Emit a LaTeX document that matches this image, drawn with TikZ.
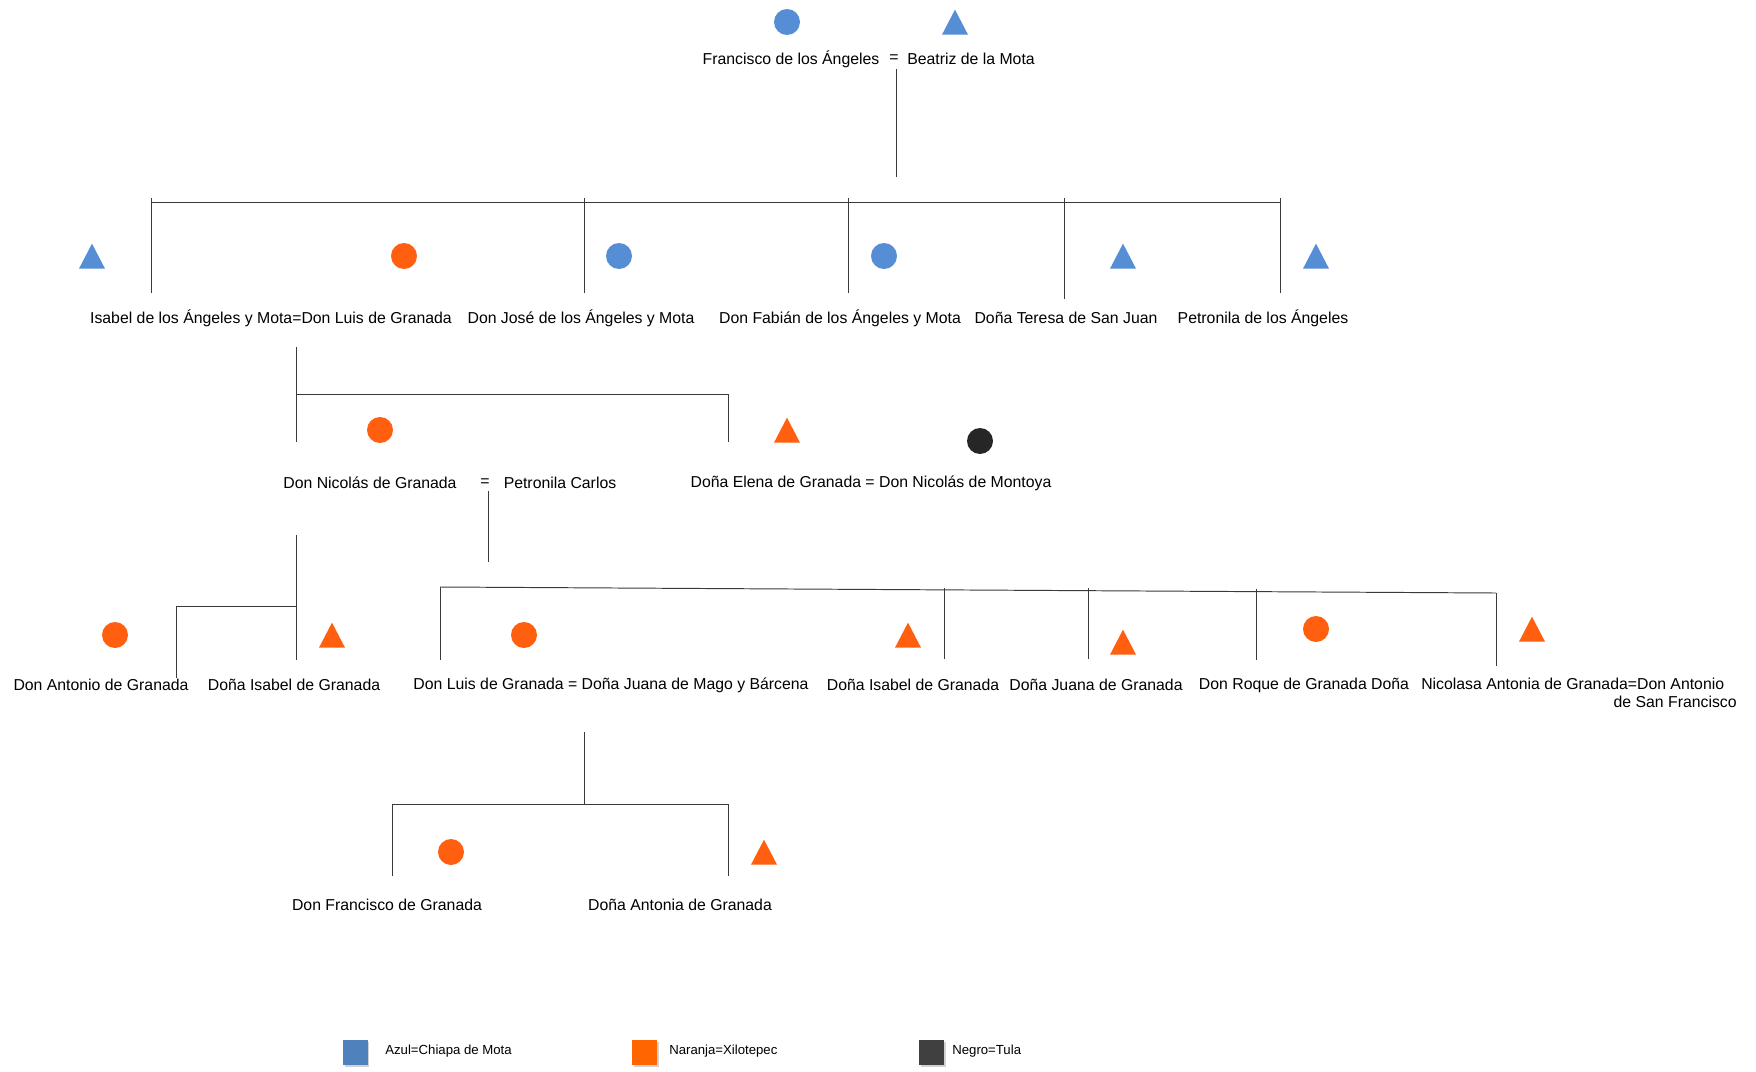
\documentclass[tikz,border=0pt]{standalone}
\usepackage{fontspec}
\setmainfont{Liberation Sans}
\usetikzlibrary{shapes.geometric,shadows}
\definecolor{azul}{HTML}{558ED5}
\definecolor{naranja}{HTML}{FF5F0F}
\definecolor{negro}{HTML}{262626}
\definecolor{azulL}{HTML}{4F81BD}
\definecolor{naranjaL}{HTML}{FF6600}
\definecolor{negroL}{HTML}{404040}
\definecolor{linea}{HTML}{3A3A3A}
\tikzset{
  circ/.style={circle,fill=#1,minimum size=0.52cm,inner sep=0pt},
  tri/.style={isosceles triangle,isosceles triangle stretches,shape border rotate=90,
    fill=#1,minimum width=0.52cm,minimum height=0.5cm,inner sep=0pt,
    anchor=south,yshift=-0.26cm},
  nombre/.style={font=\fontsize{9}{10.2}\selectfont,inner sep=0pt},
  rama/.style={draw=linea,line width=0.55pt},
  clave/.style={fill=#1,minimum size=0.5cm,inner sep=0pt,
    drop shadow={opacity=0.35,shadow xshift=0.04cm,shadow yshift=-0.05cm}},
  leyenda/.style={font=\fontsize{7.5}{9}\selectfont,inner sep=0pt,anchor=west}
}
\begin{document}
\begin{tikzpicture}[x=0.02cm,y=-0.02cm]
\useasboundingbox[fill=white] (0,0) rectangle (1756,1072);

% simbolos
\foreach \n/\x/\y/\c in {C1/787/22/azul, C2/404/256/naranja, C3/619/256/azul,
    C4/884/256/azul, C5/380/430/naranja, C6/980/441/negro, C7/115/635/naranja,
    C8/524/635/naranja, C9/1316/629/naranja, C10/451/852/naranja}{
  \node[circ=\c] (\n) at (\x,\y) {};
}
\foreach \n/\x/\y/\c in {T1/955/22/azul, T2/92/256/azul, T3/1123/256/azul,
    T4/1316/256/azul, T5/787/430/naranja, T6/332/635/naranja, T7/908/635/naranja,
    T8/1123/642/naranja, T9/1532/629/naranja, T10/764/852/naranja}{
  \node[tri=\c] (\n) at (\x,\y) {};
}

% nombres
\node[nombre] (francisco) at (791,59) {Francisco de los Ángeles};
\node[nombre] (eq0) at (894,59) {=};
\node[nombre] (beatriz) at (971,59) {Beatriz de la Mota};

\foreach \n/\x/\t in {isabel/271/Isabel de los Ángeles y Mota=Don Luis de Granada,
    jose/581/Don José de los Ángeles y Mota, fabian/840/Don Fabián de los Ángeles y Mota,
    teresa/1066/Doña Teresa de San Juan, petronila/1263/Petronila de los Ángeles}{
  \node[nombre] (\n) at (\x,318) {\t};
}

\node[nombre] (nicolas) at (370,483) {Don Nicolás de Granada};
\node[nombre] (eq2) at (485,483) {=};
\node[nombre] (carlos) at (560,483) {Petronila Carlos};
\node[nombre] (elena) at (871,483) {Doña Elena de Granada = Don Nicolás de Montoya};

\foreach \n/\x/\t in {antonio/101/Don Antonio de Granada, isabelg/294/Doña Isabel de Granada,
    luis/611/Don Luis de Granada = Doña Juana de Mago y Bárcena,
    isabelh/913/Doña Isabel de Granada, juana/1096/Doña Juana de Granada,
    roque/1304/Don Roque de Granada Doña}{
  \node[nombre] (\n) at (\x,685) {\t};
}
\node[nombre,align=right,anchor=north east] (nicolasa) at (1737,678)
  {Nicolasa Antonia de Granada=Don Antonio\hspace*{0.25cm}\\de San Francisco};

\node[nombre] (franciscog) at (387,905) {Don Francisco de Granada};
\node[nombre] (antonia) at (680,905) {Doña Antonia de Granada};

% lineas
\coordinate (a0) at (896,69);
\coordinate (a1) at (896,177);
\draw[rama] (a0) -- (a1);
\coordinate (h1l) at (151,202);
\coordinate (h1r) at (1280,202);
\draw[rama] (h1l) -- (h1r);
\foreach \i/\x/\y in {1/151/293, 2/584/293, 3/848/293, 4/1064/299, 5/1280/293}{
  \coordinate (u\i) at (\x,198);
  \coordinate (d\i) at (\x,\y);
  \draw[rama] (u\i) -- (d\i);
}

\coordinate (b0) at (296,347);
\coordinate (b1) at (296,394);
\coordinate (b2) at (728,394);
\coordinate (b3) at (296,442);
\coordinate (b4) at (728,442);
\draw[rama] (b0) -- (b3);
\draw[rama] (b1) -- (b2) -- (b4);

\coordinate (c0) at (296,535);
\coordinate (c1) at (296,660);
\coordinate (c2) at (296,606);
\coordinate (c3) at (176,606);
\coordinate (c4) at (176,678);
\draw[rama] (c0) -- (c1);
\draw[rama] (c2) -- (c3) -- (c4);

\coordinate (e0) at (488,491);
\coordinate (e1) at (488,562);
\draw[rama] (e0) -- (e1);
\coordinate (h3l) at (440,587);
\coordinate (h3r) at (1496,593);
\draw[rama] (h3l) -- (h3r);
\foreach \i/\x/\y/\z in {1/440/587/660, 2/944/588/659, 3/1088/588/659, 4/1256/589/660, 5/1496/593/666}{
  \coordinate (v\i) at (\x,\y);
  \coordinate (w\i) at (\x,\z);
  \draw[rama] (v\i) -- (w\i);
}

\coordinate (g0) at (584,732);
\coordinate (g1) at (584,804);
\coordinate (g2) at (392,804);
\coordinate (g3) at (728,804);
\coordinate (g4) at (392,876);
\coordinate (g5) at (728,876);
\draw[rama] (g0) -- (g1);
\draw[rama] (g4) -- (g2) -- (g3) -- (g5);

% leyenda
\node[clave=azulL] (K1) at (355,1052) {};
\node[clave=naranjaL] (K2) at (644,1052) {};
\node[clave=negroL] (K3) at (931,1052) {};
\node[leyenda] (L1) at (385,1051) {Azul=Chiapa de Mota};
\node[leyenda] (L2) at (669,1051) {Naranja=Xilotepec};
\node[leyenda] (L3) at (952,1051) {Negro=Tula};
\end{tikzpicture}
\end{document}
